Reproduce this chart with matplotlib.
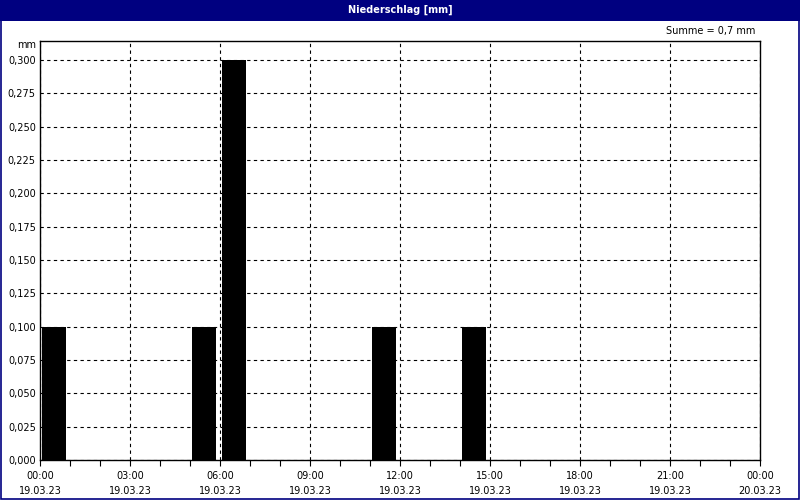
import matplotlib
matplotlib.use("Agg")
import matplotlib.pyplot as plt
import numpy as np
from matplotlib.patches import Rectangle

# hourly precipitation, 19.03.23 (hour of day -> mm)
hours = [0, 5, 6, 11, 14]
precip = [0.1, 0.1, 0.3, 0.1, 0.1]

y_ticks = [0.0, 0.025, 0.05, 0.075, 0.1, 0.125, 0.15, 0.175, 0.2, 0.225, 0.25, 0.275, 0.3]
y_labels = ["0,000", "0,025", "0,050", "0,075", "0,100", "0,125", "0,150",
            "0,175", "0,200", "0,225", "0,250", "0,275", "0,300"]
x_ticks = [0, 3, 6, 9, 12, 15, 18, 21, 24]
x_labels = ["00:00\n19.03.23", "03:00\n19.03.23", "06:00\n19.03.23", "09:00\n19.03.23",
            "12:00\n19.03.23", "15:00\n19.03.23", "18:00\n19.03.23", "21:00\n19.03.23",
            "00:00\n20.03.23"]

navy = "#000080"
fs = 7

fig = plt.figure(figsize=(8, 5), dpi=100)
fig.patch.set_facecolor("white")

# title bar + window frame
fig.patches.append(Rectangle((0, 1 - 21 / 500), 1, 21 / 500, transform=fig.transFigure,
                             facecolor=navy, edgecolor="none", zorder=0))
fig.patches.append(Rectangle((0.001, 0.002), 0.998, 0.996, transform=fig.transFigure,
                             facecolor="none", edgecolor=navy, linewidth=1.2, zorder=5))
fig.text(0.5, 1 - 10 / 500, "Niederschlag [mm]", color="white", fontsize=fs,
         fontweight="bold", ha="center", va="center")
fig.text(755 / 800, 1 - 31 / 500, "Summe = 0,7 mm", fontsize=fs, ha="right", va="center")
fig.text(36 / 800, 1 - 45 / 500, "mm", fontsize=fs, ha="right", va="center")

ax = fig.add_axes([40 / 800, 40 / 500, 720 / 800, 419 / 500])
ax.bar(np.array(hours) + 2 / 30, precip, width=0.8, align="edge", color="black", zorder=3)

ax.set_xlim(0, 24)
ax.set_ylim(0, 0.3 + 19 / 400 * 0.3)
ax.set_yticks(y_ticks)
ax.set_yticklabels(y_labels, fontsize=fs)
ax.set_xticks(x_ticks)
ax.set_xticklabels(x_labels, fontsize=fs, linespacing=1.6)
ax.set_xticks(range(25), minor=True)
ax.tick_params(axis="x", which="both", direction="out", length=4, width=0.8, pad=4)
ax.tick_params(axis="y", length=0, pad=3)

ax.grid(True, which="major", color="black", linestyle=(0, (3, 3)), linewidth=0.8, zorder=1)
for s in ax.spines.values():
    s.set_color("black")
    s.set_linewidth(1.0)

fig.savefig("out.png", dpi=100)
